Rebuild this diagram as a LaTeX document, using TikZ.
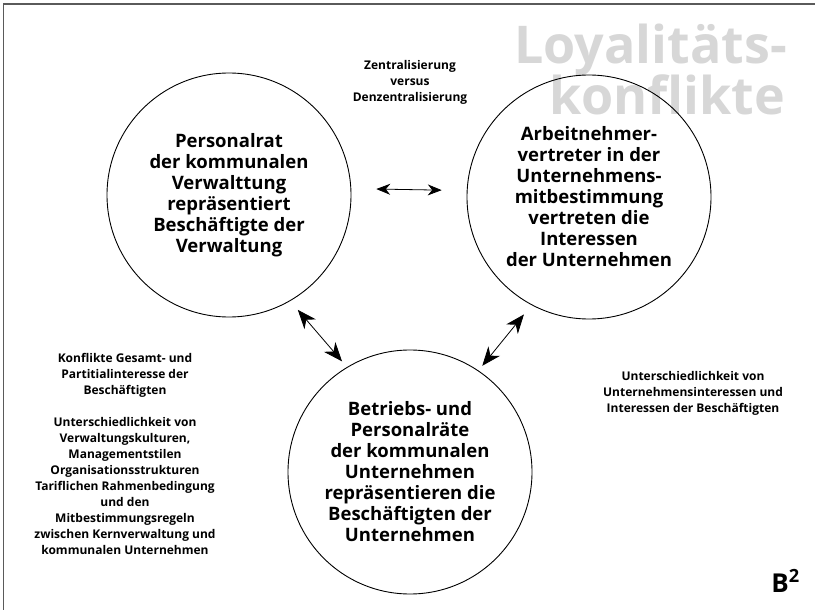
\documentclass[tikz,border=0pt]{standalone}
\usepackage{fontspec}
\setmainfont{Open Sans}
\usetikzlibrary{arrows.meta}
\definecolor{titlegray}{RGB}{215,215,215}
\definecolor{framegray}{RGB}{90,90,90}
\begin{document}
\begin{tikzpicture}[x=1pt,y=-1pt,
  bubble/.style={draw=black,line width=0.9pt,circle,minimum size=244pt,inner sep=0pt,align=center,
    font=\fontsize{18.5}{21}\selectfont\bfseries},
  note/.style={align=center,font=\fontsize{12}{16}\selectfont\bfseries},
  titletext/.style={text=titlegray,font=\fontsize{52}{50}\selectfont\bfseries,inner sep=0pt},
  bigarrow/.style={{Stealth[length=19pt,width=15pt,inset=6pt]}-{Stealth[length=19pt,width=15pt,inset=6pt]},line width=0.8pt},
  smallarrow/.style={{Stealth[length=14pt,width=11pt,inset=4.5pt]}-{Stealth[length=14pt,width=11pt,inset=4.5pt]},line width=0.8pt}]
\useasboundingbox (0,0) rectangle (815,610);
\fill[white] (0,0) rectangle (815,610);
\draw[framegray,line width=1.6pt] (3.5,610) -- (3.5,4) -- (815,4);
% title
\node[titletext,anchor=base east] (t1) at (787,64) {Loyalitäts-};
\node[titletext,anchor=base east] (t2) at (785,115) {konflikte};
% circles
\node[bubble] (L) at (229,195) {Personalrat\\der kommunalen\\Verwalttung\\repräsentiert\\Beschäftigte der\\Verwaltung};
\node[bubble] (R) at (589,197) {Arbeitnehmer-\\vertreter in der\\Unternehmens-\\mitbestimmung\\vertreten die\\Interessen\\der Unternehmen};
\node[bubble] (B) at (410,472) {Betriebs- und\\Personalräte\\der kommunalen\\Unternehmen\\repräsentieren die\\Beschäftigten der\\Unternehmen};
% arrows
\draw[smallarrow,shorten <=25pt,shorten >=25pt] (L.3) -- (R.177);
\draw[bigarrow,shorten <=11.6pt,shorten >=7.5pt] (L.300.6) -- (B.121);
\draw[bigarrow,shorten <=6pt,shorten >=12pt] (B.56) -- (R.242);
% notes
\node[note] (top) at (410,82) {Zentralisierung\\versus\\Denzentralisierung};
\node[note,anchor=north] (left) at (125,350) {Konflikte Gesamt- und\\Partitialinteresse der\\Beschäftigten\\[16pt]Unterschiedlichkeit von\\Verwaltungskulturen,\\Managementstilen\\Organisationsstrukturen\\Tariflichen Rahmenbedingung\\und den\\Mitbestimmungsregeln\\zwischen Kernverwaltung und\\kommunalen Unternehmen};
\node[note] (right) at (693,393) {Unterschiedlichkeit von\\Unternehmensinteressen und\\Interessen der Beschäftigten};
\node[font=\fontsize{26}{26}\selectfont\bfseries,anchor=base east,inner sep=0pt] (b2) at (800,592) {B\textsuperscript{2}};
\end{tikzpicture}
\end{document}
